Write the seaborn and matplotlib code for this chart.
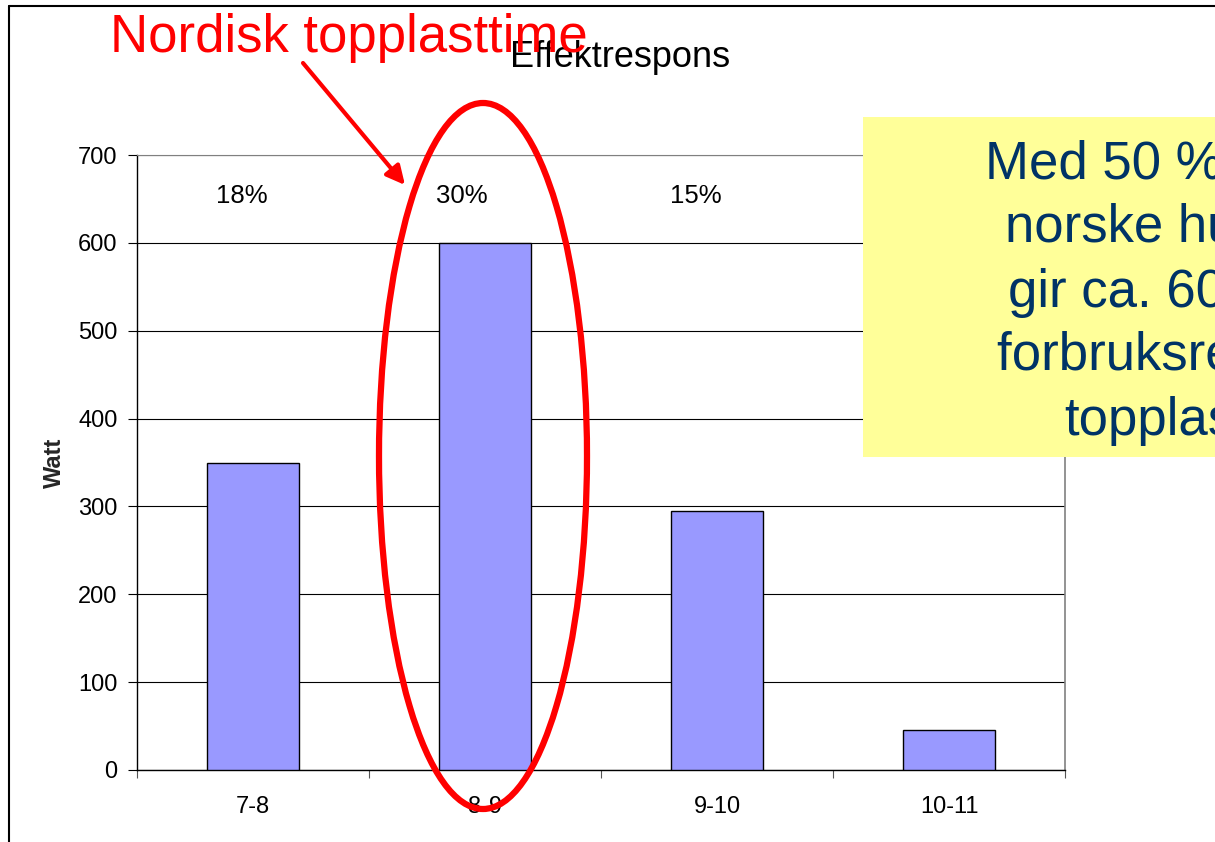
import matplotlib
matplotlib.use("Agg")
import matplotlib.pyplot as plt
import seaborn as sns
from matplotlib.patches import Ellipse, Rectangle
from matplotlib.lines import Line2D

# Data
hours = ["7-8", "8-9", "9-10", "10-11"]
watt = [350, 600, 295, 45]
share_labels = ["18%", "30%", "15%"]
share_xpos = [-0.05, 0.90, 1.91]
y_ticks = [0, 100, 200, 300, 400, 500, 600, 700]

title = "Effektrespons"
callout = "Nordisk topplasttime"
note_lines = ["Med 50 % av", "norske husholdninger", "gir ca. 600 MW",
              "forbruksrespons i", "topplasttimen"]

sns.set_theme(style="white")
plt.rcParams["font.family"] = ["Liberation Sans", "DejaVu Sans"]

W, H = 1215, 842
fig = plt.figure(figsize=(W / 100, H / 100), dpi=100)
fig.patch.set_facecolor("white")

ax = fig.add_axes([137 / W, 1 - 770 / H, (1065 - 137) / W, (770 - 155) / H])
sns.barplot(x=hours, y=watt, color="#9999FF", saturation=1, width=0.4,
            edgecolor="black", linewidth=1.0, ax=ax, zorder=3)

ax.set_xlim(-0.5, len(hours) - 0.5)
ax.set_ylim(0, 700)
ax.set_yticks(y_ticks)
ax.set_yticklabels([str(v) for v in y_ticks], fontsize=17, color="black")
ax.tick_params(axis="y", direction="out", length=6.5, width=0.8, pad=7.5,
               color="black", left=True)
ax.tick_params(axis="x", which="major", length=0, pad=19, labelsize=17,
               labelcolor="black")
ax.set_xticks([i - 0.5 for i in range(len(hours) + 1)], minor=True)
ax.tick_params(axis="x", which="minor", direction="out", length=6, width=0.8,
               color="#555555", bottom=True)
ax.set_xlabel("")
ax.set_ylabel("Watt", fontsize=17, fontweight="bold", labelpad=9)

ax.yaxis.grid(True, color="black", linewidth=0.8, zorder=0)
ax.set_axisbelow(True)
for side in ["left", "bottom"]:
    ax.spines[side].set_color("black")
    ax.spines[side].set_linewidth(1.0)
ax.spines["right"].set_color("#808080")
ax.spines["right"].set_linewidth(1.2)
ax.spines["top"].set_color("#808080")
ax.spines["top"].set_linewidth(0.8)

for lbl, xp in zip(share_labels, share_xpos):
    ax.text(xp, 653, lbl, ha="center", va="center", fontsize=18.5, color="black")

# Chart title
fig.text(620 / W, 1 - 67 / H, title, ha="center", va="baseline",
         fontsize=26, color="black")

# Red call-out text and arrow
fig.text(110 / W, 1 - 52 / H, callout, ha="left", va="baseline",
         fontsize=38, color="red", zorder=10)
ax.annotate("", xy=(405, H - 185), xytext=(303, H - 63),
            xycoords="figure pixels", textcoords="figure pixels",
            arrowprops=dict(arrowstyle="-|>", color="red", lw=3,
                            mutation_scale=28, shrinkA=0, shrinkB=0),
            annotation_clip=False, zorder=10)

# Highlight ring round the peak hour
ring = Ellipse((483 / W, 1 - 456 / H), 208 / W, 706 / H,
               transform=fig.transFigure, fill=False, edgecolor="red",
               linewidth=4.5, zorder=9)
fig.patches.append(ring)

# Yellow note box
box = Rectangle((863 / W, 1 - 457 / H), (W - 863 + 10) / W, (457 - 117) / H,
                transform=fig.transFigure, facecolor="#FFFF99",
                edgecolor="none", zorder=8)
fig.patches.append(box)
note_x = [985, 1005, 1008, 997, 1064]
note_base = [179, 242, 307, 370, 435]
for txt, xp, yb in zip(note_lines, note_x, note_base):
    fig.text(xp / W, 1 - yb / H, txt, ha="left", va="baseline",
             fontsize=38, color="#003366", zorder=11)

# Slide frame lines
fig.lines.append(Line2D([9 / W, 1], [1 - 6 / H, 1 - 6 / H],
                        transform=fig.transFigure, color="black", lw=1.5))
fig.lines.append(Line2D([9 / W, 9 / W], [0, 1 - 6 / H],
                        transform=fig.transFigure, color="black", lw=1.5))

fig.savefig("out.png", dpi=100)
